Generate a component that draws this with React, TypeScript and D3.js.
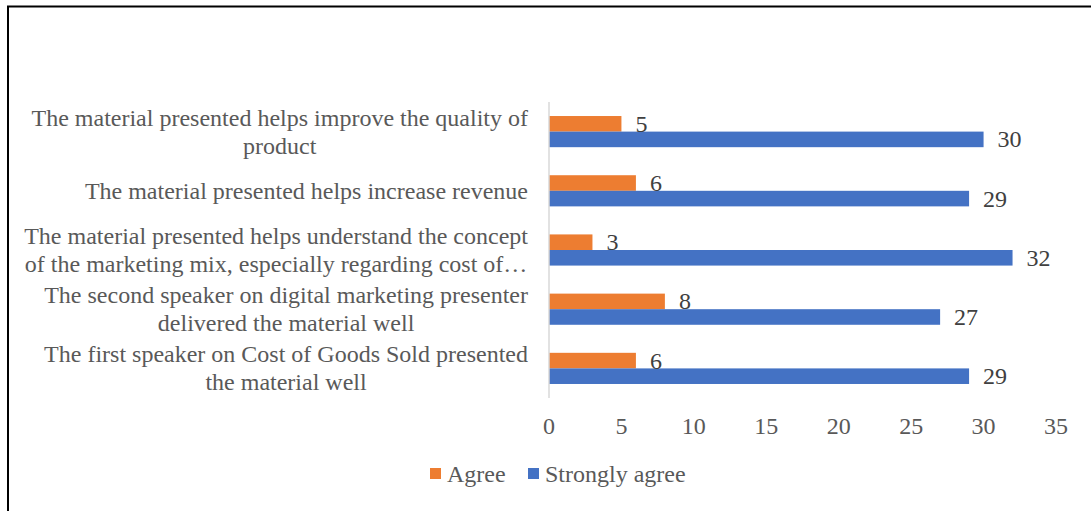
import { useEffect, useRef } from "react";
import * as d3 from "d3";

const categories = [
  "The material presented helps improve the quality of product",
  "The material presented helps increase revenue",
  "The material presented helps understand the concept of the marketing mix, especially regarding cost of…",
  "The second speaker on digital marketing presenter delivered the material well",
  "The first speaker on Cost of Goods Sold presented the material well",
];
const categoryLines = [
  ["The material presented helps improve the quality of", "product"],
  ["The material presented helps increase revenue"],
  ["The material presented helps understand the concept", "of the marketing mix, especially regarding cost of…"],
  ["The second speaker on digital marketing presenter", "delivered the material well"],
  ["The first speaker on Cost of Goods Sold presented", "the material well"],
];
const agree = [5, 6, 3, 8, 6];
const stronglyAgree = [30, 29, 32, 27, 29];
const seriesNames = ["Agree", "Strongly agree"];
const xTicks = [0, 5, 10, 15, 20, 25, 30, 35];

const colors: Record<string, string> = { Agree: "#ED7D31", "Strongly agree": "#4472C4" };

const W = 1091;
const H = 511;
const font = "'Liberation Serif', 'Times New Roman', serif";
const fs = "24px";

function App() {
  const ref = useRef<SVGSVGElement>(null);

  useEffect(() => {
    if (!ref.current) return;
    const svg = d3.select(ref.current);
    svg.selectAll("*").remove();

    // outer frame (only top + left visible)
    svg
      .append("rect")
      .attr("x", 8)
      .attr("y", 6.5)
      .attr("width", W + 20)
      .attr("height", H + 20)
      .attr("fill", "none")
      .attr("stroke", "#000")
      .attr("stroke-width", 2);

    const x = d3.scaleLinear().domain([0, 35]).range([549, 1056]);
    const y = d3.scaleBand<string>().domain(categories).range([102, 398]);
    const inner = d3
      .scaleBand<string>()
      .domain(seriesNames)
      .range([0, y.bandwidth()])
      .paddingOuter(0.9);

    const rows = categories.map((c, i) => ({
      cat: c,
      lines: categoryLines[i],
      values: [
        { s: "Agree", v: agree[i] },
        { s: "Strongly agree", v: stronglyAgree[i] },
      ],
    }));

    // x tick labels
    svg
      .append("g")
      .selectAll("text")
      .data(xTicks)
      .enter()
      .append("text")
      .attr("x", (d) => x(d))
      .attr("y", 434)
      .attr("text-anchor", "middle")
      .attr("fill", "#595959")
      .style("font-family", font)
      .style("font-size", fs)
      .text((d) => d);

    const g = svg
      .append("g")
      .selectAll("g")
      .data(rows)
      .enter()
      .append("g")
      .attr("transform", (d) => `translate(0,${y(d.cat)})`);

    g.selectAll("rect")
      .data((d) => d.values)
      .enter()
      .append("rect")
      .attr("x", x(0))
      .attr("y", (d) => inner(d.s)!)
      .attr("width", (d) => x(d.v) - x(0))
      .attr("height", inner.bandwidth())
      .attr("fill", (d) => colors[d.s]);

    g.selectAll("text.val")
      .data((d) => d.values)
      .enter()
      .append("text")
      .attr("class", "val")
      .attr("x", (d) => x(d.v) + 14)
      .attr("y", (d) => inner(d.s)! + inner.bandwidth() / 2 + 8)
      .attr("fill", "#404040")
      .style("font-family", font)
      .style("font-size", fs)
      .text((d) => d.v);

    // category labels, centred lines in a right-aligned block
    g.each(function (d) {
      const grp = d3.select(this);
      const t = grp
        .append("text")
        .attr("fill", "#595959")
        .style("font-family", font)
        .style("font-size", fs)
        .attr("text-anchor", "middle");
      const n = d.lines.length;
      const spans = d.lines.map((ln, k) =>
        t
          .append("tspan")
          .attr("x", 0)
          .attr("y", y.bandwidth() / 2 + 8 + (k - (n - 1) / 2) * 28)
          .text(ln)
      );
      const widths = spans.map((s) => (s.node() as SVGTSpanElement).getComputedTextLength());
      const maxW = Math.max(...widths);
      spans.forEach((s) => s.attr("x", 528 - maxW / 2));
    });

    // vertical axis line
    svg
      .append("line")
      .attr("x1", x(0))
      .attr("x2", x(0))
      .attr("y1", 102)
      .attr("y2", 398)
      .attr("stroke", "#D9D9D9")
      .attr("stroke-width", 1.5);

    // legend
    const legend = svg.append("g");
    const lx = [430, 528];
    seriesNames.forEach((s, i) => {
      legend
        .append("rect")
        .attr("x", lx[i])
        .attr("y", 468)
        .attr("width", 11)
        .attr("height", 11)
        .attr("fill", colors[s]);
      legend
        .append("text")
        .attr("x", lx[i] + 17)
        .attr("y", 482)
        .attr("fill", "#595959")
        .style("font-family", font)
        .style("font-size", fs)
        .text(s);
    });
  }, []);

  return (
    <svg
      ref={ref}
      width={W}
      height={H}
      style={{ position: "absolute", left: 0, top: 0, background: "#fff" }}
    />
  );
}

export default App;
